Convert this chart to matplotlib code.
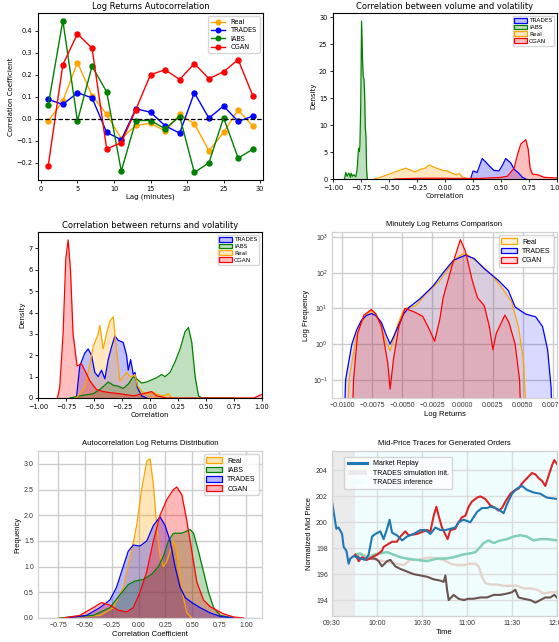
import matplotlib
matplotlib.use("Agg")
import matplotlib.pyplot as plt
from matplotlib.patches import Patch
from matplotlib.lines import Line2D

W, H = 559, 642

# --- Log returns autocorrelation (lags in minutes)
lags = [1, 3, 5, 7, 9, 11, 13, 15, 17, 19, 21, 23, 25, 27, 29]
acf_real = [-0.01, 0.08, 0.255, 0.105, 0.02, -0.09, -0.03, -0.02, -0.055, 0.02, -0.022, -0.145, -0.062, 0.04, -0.033]
acf_trades = [0.088, 0.065, 0.118, 0.095, -0.062, -0.095, 0.045, 0.03, -0.032, -0.065, 0.118, 0.003, 0.058, -0.012, 0.012]
acf_iabs = [0.062, 0.445, -0.01, 0.238, 0.122, -0.237, -0.008, -0.008, -0.045, 0.01, -0.243, -0.2, 0.005, -0.178, -0.138]
acf_cgan = [-0.213, 0.245, 0.385, 0.32, -0.137, -0.108, 0.042, 0.2, 0.222, 0.178, 0.25, 0.182, 0.213, 0.268, 0.105]

# --- Correlation between volume and volatility (density curves)
vv_trades_x = [0.228, 0.251, 0.287, 0.332, 0.362, 0.392, 0.437, 0.482, 0.512, 0.542, 0.587, 0.617, 0.653, 0.692, 0.722]
vv_trades_y = [0, 1.5, 1.2, 3.8, 3.2, 2.5, 1.6, 1.5, 2.5, 3.8, 3.0, 1.8, 1.2, 0.3, 0]
vv_iabs_x = [-0.900, -0.895, -0.886, -0.874, -0.859, -0.844, -0.838, -0.826, -0.814, -0.796, -0.784, -0.772,
             -0.766, -0.760, -0.752, -0.745, -0.736, -0.730, -0.724, -0.718, -0.712, -0.706, -0.700, -0.694]
vv_iabs_y = [0, 0.2, 1.2, 0.5, 1.1, 0.3, 1.1, 0.5, 0.8, 0.4, 1.8, 5.7, 5.1, 6.0, 14, 29.3, 22, 19, 18.7, 16, 9.7, 8, 1.8, 0]
vv_real_x = [-0.63, -0.58, -0.50, -0.42, -0.35, -0.30, -0.27, -0.22, -0.18, -0.14, -0.10, -0.06, -0.02, 0.02,
             0.06, 0.10, 0.13, 0.16, 0.20, 0.25]
vv_real_y = [0, 0.3, 0.9, 1.5, 2.0, 1.6, 1.3, 1.8, 2.0, 2.6, 2.2, 1.9, 1.6, 1.5, 1.1, 0.8, 1.0, 0.3, 0.1, 0]
vv_cgan_x = [-0.45, -0.30, -0.10, 0.10, 0.30, 0.50, 0.557, 0.617, 0.647, 0.677, 0.722, 0.743, 0.760, 0.781, 0.826, 0.886, 1.0]
vv_cgan_y = [0, 0.1, 0.15, 0.1, 0.1, 0.3, 0.5, 2.0, 4.5, 6.5, 7.3, 5.5, 2.0, 0.9, 0.8, 0.3, 0.2]

# --- Correlation between returns and volatility
rv_trades_x = [-0.657, -0.627, -0.582, -0.552, -0.522, -0.493, -0.463, -0.433, -0.403, -0.373, -0.343, -0.313,
               -0.284, -0.239, -0.209, -0.194, -0.173, -0.149, -0.134, -0.113, -0.075, -0.030]
rv_trades_y = [0, 1.5, 2.1, 2.3, 2.0, 1.2, 1.0, 1.3, 0.9, 1.8, 2.4, 2.9, 2.7, 2.6, 2.0, 1.3, 1.8, 1.1, 1.2, 0.5, 0.1, 0]
rv_iabs_x = [-0.716, -0.627, -0.507, -0.448, -0.403, -0.373, -0.328, -0.284, -0.239, -0.194, -0.149, -0.119,
             -0.075, -0.030, 0.015, 0.060, 0.104, 0.134, 0.179, 0.224, 0.269, 0.313, 0.343, 0.373, 0.403, 0.433, 0.463, 0.746]
rv_iabs_y = [0, 0.1, 0.2, 0.4, 0.6, 0.75, 0.6, 0.55, 0.45, 0.65, 1.0, 0.9, 0.7, 0.75, 0.85, 0.95, 1.1, 1.0, 1.2,
             1.7, 2.3, 3.1, 3.3, 2.6, 1.0, 0.1, 0, 0]
rv_real_x = [-0.657, -0.582, -0.552, -0.507, -0.463, -0.448, -0.418, -0.388, -0.358, -0.328, -0.304, -0.269,
             -0.239, -0.209, -0.179, -0.164, -0.134, -0.113, -0.075, -0.030, 0.030, 0.075, 0.119, 0.164, 0.194]
rv_real_y = [0, 0.5, 1.2, 2.4, 3.0, 3.4, 2.3, 3.0, 3.6, 3.8, 2.5, 0.8, 1.0, 1.2, 1.0, 1.0, 1.1, 0.6, 0.3, 0.2,
             0.25, 0.15, 0.1, 0.2, 0]
rv_cgan_x = [-0.827, -0.806, -0.776, -0.752, -0.731, -0.710, -0.687, -0.651, -0.612, -0.582, -0.537, -0.478,
             -0.418, -0.358, -0.269, -0.149, -0.060, 0.015, 0.060, 0.149, 0.925, 0.970, 1.0]
rv_cgan_y = [0, 0.5, 3.0, 6.5, 7.4, 6.0, 3.0, 1.5, 1.6, 1.3, 0.8, 0.4, 0.3, 0.25, 0.2, 0.1, 0.2, 0.3, 0.1, 0, 0, 0.1, 0.17]

# --- Minutely log returns (log-scale density)
lr_real_x = [-0.00969, -0.00943, -0.00886, -0.0084, -0.008, -0.00758, -0.0072, -0.0068, -0.0064, -0.00602,
             -0.0057, -0.0054, -0.005, -0.00474, -0.00388, -0.00303, -0.00189, -0.00104, -0.0005, -0.00004,
             0.00039, 0.00124, 0.00238, 0.00323, 0.00409, 0.00465, 0.00508, 0.00542]
lr_real_y = [0.001, 0.1, 1.5, 4.0, 6.8, 8.5, 6.8, 3.5, 1.3, 0.65, 1.4, 3.5, 7.5, 10, 12, 26, 60, 150, 250, 330,
             320, 200, 90, 40, 15, 3, 0.3, 0.001]
lr_trades_x = [-0.00991, -0.00972, -0.0092, -0.0088, -0.00843, -0.008, -0.00758, -0.0072, -0.00673, -0.0064,
               -0.00602, -0.0057, -0.0053, -0.0049, -0.00445, -0.0036, -0.00246, -0.00161, -0.00075, 0.00024,
               0.00096, 0.0018, 0.00295, 0.0038, 0.00437, 0.00522, 0.00608, 0.00665, 0.00707, 0.00736, 0.0075]
lr_trades_y = [0.001, 0.1, 1.0, 2.5, 4.5, 6.3, 7.2, 6.3, 4.0, 2.0, 1.0, 1.7, 3.5, 7.0, 10.7, 17.8, 42, 100, 224,
               309, 250, 130, 62, 32, 11, 7, 5.8, 3.1, 0.7, 0.06, 0.001]
lr_cgan_x = [-0.00923, -0.00906, -0.00872, -0.0082, -0.00758, -0.0072, -0.00673, -0.00622, -0.00602, -0.00573,
             -0.0053, -0.00479, -0.00402, -0.00331, -0.00274, -0.00232, -0.00189, -0.00161, -0.00089, -0.00018,
             0.00024, 0.00081, 0.00124, 0.0018, 0.00224, 0.00252, 0.0028, 0.00352, 0.00386, 0.00437, 0.00474, 0.00494]
lr_cgan_y = [0.001, 0.1, 2.0, 6.5, 9.3, 7.0, 3.0, 0.3, 0.055, 0.4, 3.0, 10, 8, 6, 2.5, 1.2, 5, 20, 150, 840,
             400, 60, 20, 12, 3, 0.7, 2, 6.5, 4, 1, 0.1, 0.001]

# --- Autocorrelation log returns distribution
ad_real_x = [-0.75, -0.361, -0.236, -0.143, -0.065, -0.018, 0.029, 0.076, 0.107, 0.138, 0.169, 0.200, 0.231,
             0.262, 0.294, 0.325, 0.356, 0.387, 0.418, 0.449, 0.496]
ad_real_y = [0, 0.05, 0.2, 0.6, 1.3, 1.8, 2.5, 3.05, 3.1, 2.6, 1.8, 1.2, 1.0, 1.1, 1.3, 1.5, 1.3, 0.8, 0.4, 0.1, 0]
ad_iabs_x = [-0.734, -0.579, -0.423, -0.267, -0.174, -0.096, -0.033, 0.044, 0.122, 0.185, 0.231, 0.278, 0.325,
             0.403, 0.481, 0.512, 0.558, 0.605, 0.652, 0.699, 0.761, 0.886]
ad_iabs_y = [0, 0.03, 0.05, 0.2, 0.45, 0.65, 0.72, 0.75, 0.85, 1.0, 1.2, 1.5, 1.65, 1.65, 1.72, 1.65, 1.3, 0.9,
             0.5, 0.2, 0.05, 0]
ad_trades_x = [-0.672, -0.485, -0.361, -0.267, -0.205, -0.143, -0.096, -0.049, 0.013, 0.076, 0.138, 0.200, 0.247,
               0.294, 0.340, 0.387, 0.434, 0.496, 0.574, 0.667, 0.761, 0.886]
ad_trades_y = [0, 0.05, 0.2, 0.35, 0.6, 1.0, 1.3, 1.42, 1.4, 1.5, 1.8, 1.97, 1.8, 1.5, 1.0, 0.6, 0.4, 0.3, 0.2,
               0.1, 0.03, 0]
ad_cgan_x = [-0.703, -0.548, -0.423, -0.345, -0.267, -0.189, -0.111, -0.049, 0.013, 0.076, 0.138, 0.200, 0.262,
             0.325, 0.356, 0.403, 0.449, 0.496, 0.543, 0.605, 0.667, 0.730, 0.792, 0.886, 0.979]
ad_cgan_y = [0, 0.05, 0.2, 0.3, 0.25, 0.15, 0.12, 0.2, 0.5, 0.9, 1.5, 2.0, 2.3, 2.5, 2.55, 2.4, 1.9, 1.3, 0.7,
             0.35, 0.22, 0.15, 0.08, 0.02, 0]

# --- Mid-price traces (minutes after 09:30)
mp_replay_t = [0, 1.1, 2.9, 4.4, 6.7, 7.8, 9.6, 11.1, 12.2, 14.4, 18.9, 22.2, 24.4, 26.7, 28.9, 32.2, 34.4, 36.7,
               38.4, 40.0, 43.3, 46.7, 50.0, 54.4, 58.9, 62.2, 65.6, 68.9, 72.2, 75.6, 78.9, 82.2, 84.4, 87.8,
               92.2, 96.7, 100.0, 103.3, 105.6, 108.9, 112.2, 114.4, 116.7, 120.0, 123.3, 126.7, 130.0, 134.4,
               138.9, 143.3, 150.0]
mp_replay = [201.6, 200.8, 199.5, 199.6, 199.1, 198.1, 197.8, 196.8, 197.2, 197.4, 197.2, 197.1, 197.5, 198.9,
             199.1, 199.3, 198.7, 199.5, 200.2, 199.2, 199.0, 198.6, 198.9, 199.1, 199.4, 199.4, 199.1, 199.6,
             199.4, 199.4, 199.5, 199.6, 200.0, 200.2, 200.0, 200.8, 201.1, 201.1, 201.2, 201.1, 200.9, 200.7,
             201.4, 202.2, 202.6, 202.8, 202.5, 202.3, 202.2, 201.9, 201.8]
mp_red_t = [15.6, 17.8, 20.0, 23.3, 26.7, 30.0, 33.3, 34.4, 40.0, 43.3, 45.6, 48.9, 51.1, 56.7, 63.3, 65.6, 67.8,
            69.6, 71.1, 73.3, 77.1, 78.9, 82.2, 84.4, 86.7, 88.9, 91.1, 93.3, 96.7, 98.9, 102.2, 105.6, 108.9,
            111.1, 113.3, 115.6, 118.9, 122.2, 124.4, 126.7, 130.0, 133.3, 135.6, 137.8, 140.0, 142.2, 144.4,
            146.7, 148.2, 150.0]
mp_red = [197.5, 197.0, 197.3, 197.1, 197.3, 197.5, 197.8, 198.1, 198.5, 198.5, 198.9, 199.3, 199.0, 199.1,
          199.4, 199.3, 200.5, 201.2, 200.5, 199.6, 198.7, 199.4, 199.5, 200.0, 200.4, 200.5, 201.2, 201.6,
          201.9, 202.0, 201.8, 201.3, 201.1, 200.9, 201.1, 201.6, 202.2, 202.5, 202.6, 203.0, 203.4, 203.8,
          203.7, 203.4, 203.2, 202.8, 203.6, 204.4, 204.8, 204.5]
mp_teal_t = [15.6, 18.9, 23.3, 27.8, 32.2, 36.7, 41.1, 45.6, 50.0, 56.7, 63.3, 70.0, 75.6, 81.1, 86.7, 92.2, 95.6,
             98.9, 101.1, 104.4, 107.8, 112.2, 116.7, 121.1, 125.6, 130.0, 134.4, 138.9, 143.3, 150.0]
mp_teal = [197.5, 197.6, 197.2, 197.5, 197.6, 197.7, 197.5, 197.3, 197.2, 197.1, 197.0, 197.2, 197.2, 197.3,
           197.5, 197.6, 197.7, 198.1, 198.4, 198.6, 198.4, 198.6, 198.7, 198.9, 199.0, 198.9, 198.6, 198.7,
           198.7, 198.6]
mp_pink_t = [15.6, 21.1, 25.6, 30.0, 34.4, 43.3, 47.8, 52.2, 56.7, 61.1, 65.6, 70.0, 74.4, 78.9, 83.3, 87.8, 92.2,
             95.6, 97.8, 100.0, 102.2, 105.6, 110.0, 114.4, 118.9, 123.3, 127.8, 132.2, 136.7, 141.1, 145.6, 150.0]
mp_pink = [197.5, 197.5, 197.2, 197.1, 197.0, 196.8, 196.7, 197.1, 197.1, 197.2, 197.3, 197.2, 197.1, 196.8,
           196.7, 196.7, 196.8, 196.8, 196.6, 195.8, 195.3, 195.2, 195.2, 195.1, 195.1, 195.1, 194.9, 194.9,
           194.8, 194.5, 194.6, 194.6]
mp_brown_t = [15.6, 18.9, 23.3, 28.9, 31.1, 33.3, 36.7, 38.9, 42.2, 45.6, 50.0, 54.4, 58.9, 63.3, 67.8, 72.2,
              74.4, 75.6, 76.7, 77.8, 81.1, 84.4, 87.8, 91.1, 94.4, 98.9, 103.3, 107.8, 112.2, 116.7, 120.0,
              122.2, 124.4, 127.8, 132.2, 135.6, 138.9, 142.2, 145.6, 148.2, 150.0]
mp_brown = [197.5, 197.2, 197.2, 197.2, 197.0, 196.6, 197.0, 197.1, 196.6, 196.4, 196.2, 196.0, 195.9, 195.8,
            195.6, 195.5, 195.4, 195.9, 194.8, 194.0, 194.4, 194.1, 194.0, 194.1, 194.1, 194.2, 194.2, 194.4,
            194.4, 194.5, 194.6, 194.8, 194.2, 194.1, 194.0, 193.8, 194.0, 194.2, 194.2, 194.4, 194.2]
time_ticks = [0, 30, 60, 90, 120, 150]
time_labels = ["09:30", "10:00", "10:30", "11:00", "11:30", "12:00"]
init_end = 15.6


def px_axes(fig, left, top, right, bottom):
    return fig.add_axes([left / W, 1 - bottom / H, (right - left) / W, (bottom - top) / H])


def classic_axes(ax):
    ax.tick_params(labelsize=4.8, length=2.5, width=0.6, pad=1.5)
    for s in ax.spines.values():
        s.set_linewidth(0.8)


def seaborn_axes(ax, grid="#cdcdcd"):
    ax.set_facecolor("white")
    ax.grid(True, color=grid, linewidth=1.0)
    ax.set_axisbelow(True)
    for s in ax.spines.values():
        s.set_color("#d2d2d2")
        s.set_linewidth(0.9)
    ax.tick_params(labelsize=5, length=0, pad=3, labelcolor="#333333")


def kde_fill(ax, x, y, color, alpha=0.25, lw=0.9):
    ax.fill_between(x, y, color=color, alpha=alpha, linewidth=0)
    ax.plot(x, y, color=color, linewidth=lw)


def legend_patches(ax, names, colors, alpha, **kw):
    handles = [Patch(facecolor=matplotlib.colors.to_rgba(c, alpha), edgecolor=c, linewidth=0.9, label=n)
               for n, c in zip(names, colors)]
    return ax.legend(handles=handles, **kw)


def plot_autocorr(fig):
    ax = px_axes(fig, 38, 13, 263, 180)
    ax.plot(lags, acf_real, "o-", color="orange", label="Real", markersize=3.6, linewidth=1)
    ax.plot(lags, acf_trades, "o-", color="blue", label="TRADES", markersize=3.6, linewidth=1)
    ax.plot(lags, acf_iabs, "o-", color="green", label="IABS", markersize=3.6, linewidth=1)
    ax.plot(lags, acf_cgan, "o-", color="red", label="CGAN", markersize=3.6, linewidth=1)
    ax.axhline(0, color="black", linestyle="--", linewidth=0.9)
    ax.set_xticks([0, 5, 10, 15, 20, 25, 30])
    ax.set_title("Log Returns Autocorrelation", fontsize=6, pad=3)
    ax.set_xlabel("Lag (minutes)", fontsize=5, labelpad=1.5)
    ax.set_ylabel("Correlation Coefficient", fontsize=5, labelpad=2)
    classic_axes(ax)
    ax.legend(fontsize=4.8, loc="upper right", markerscale=0.9, handlelength=2.2, borderpad=0.4,
              labelspacing=0.35)


def plot_vol_volatility(fig):
    ax = px_axes(fig, 333, 13, 557, 179)
    kde_fill(ax, vv_trades_x, vv_trades_y, "blue")
    kde_fill(ax, vv_iabs_x, vv_iabs_y, "green")
    kde_fill(ax, vv_real_x, vv_real_y, "orange")
    kde_fill(ax, vv_cgan_x, vv_cgan_y, "red")
    ax.set_xlim(-1, 1)
    ax.set_ylim(0, 30.8)
    ax.set_title("Correlation between volume and volatility", fontsize=6, pad=3)
    ax.set_xlabel("Correlation", fontsize=5, labelpad=1.5)
    ax.set_ylabel("Density", fontsize=5, labelpad=2)
    classic_axes(ax)
    legend_patches(ax, ["TRADES", "IABS", "Real", "CGAN"], ["blue", "green", "orange", "red"], 0.25,
                   fontsize=4.2, loc="upper right", handlelength=2.2, handleheight=0.9, borderpad=0.3,
                   labelspacing=0.25, handletextpad=0.3)


def plot_ret_volatility(fig):
    ax = px_axes(fig, 38, 232, 262, 398)
    kde_fill(ax, rv_trades_x, rv_trades_y, "blue")
    kde_fill(ax, rv_iabs_x, rv_iabs_y, "green")
    kde_fill(ax, rv_real_x, rv_real_y, "orange")
    kde_fill(ax, rv_cgan_x, rv_cgan_y, "red")
    ax.set_xlim(-1, 1)
    ax.set_ylim(0, 7.77)
    ax.set_title("Correlation between returns and volatility", fontsize=6, pad=3)
    ax.set_xlabel("Correlation", fontsize=5, labelpad=1.5)
    ax.set_ylabel("Density", fontsize=5, labelpad=2)
    classic_axes(ax)
    legend_patches(ax, ["TRADES", "IABS", "Real", "CGAN"], ["blue", "green", "orange", "red"], 0.25,
                   fontsize=4.2, loc="upper right", handlelength=2.2, handleheight=0.9, borderpad=0.3,
                   labelspacing=0.25, handletextpad=0.3)


def plot_log_returns(fig):
    ax = px_axes(fig, 332, 232, 557, 398)
    seaborn_axes(ax)
    kde_fill(ax, lr_real_x, lr_real_y, "orange", alpha=0.15)
    kde_fill(ax, lr_trades_x, lr_trades_y, "blue", alpha=0.15)
    kde_fill(ax, lr_cgan_x, lr_cgan_y, "red", alpha=0.15)
    ax.set_yscale("log")
    ax.set_ylim(0.031, 1380)
    ax.set_xlim(-0.01085, 0.00785)
    ax.set_xticks([-0.01, -0.0075, -0.005, -0.0025, 0, 0.0025, 0.005, 0.0075])
    ax.minorticks_off()
    ax.set_title("Minutely Log Returns Comparison", fontsize=5.5, pad=4)
    ax.set_xlabel("Log Returns", fontsize=5.5, labelpad=1)
    ax.set_ylabel("Log Frequency", fontsize=5.5, labelpad=2)
    legend_patches(ax, ["Real", "TRADES", "CGAN"], ["orange", "blue", "red"], 0.15,
                   fontsize=5, loc="upper right", handlelength=2.2, handleheight=0.9, borderpad=0.4,
                   labelspacing=0.3)


def plot_acf_dist(fig):
    ax = px_axes(fig, 38, 451, 262, 618)
    seaborn_axes(ax)
    kde_fill(ax, ad_real_x, ad_real_y, "orange", alpha=0.28)
    kde_fill(ax, ad_iabs_x, ad_iabs_y, "green", alpha=0.28)
    kde_fill(ax, ad_trades_x, ad_trades_y, "blue", alpha=0.28)
    kde_fill(ax, ad_cgan_x, ad_cgan_y, "red", alpha=0.28)
    ax.set_xlim(-0.937, 1.15)
    ax.set_ylim(0, 3.25)
    ax.set_xticks([-0.75, -0.5, -0.25, 0, 0.25, 0.5, 0.75, 1.0])
    ax.set_title("Autocorrelation Log Returns Distribution", fontsize=5.5, pad=4)
    ax.set_xlabel("Correlation Coefficient", fontsize=5.5, labelpad=1)
    ax.set_ylabel("Frequency", fontsize=5.5, labelpad=2)
    legend_patches(ax, ["Real", "IABS", "TRADES", "CGAN"], ["orange", "green", "blue", "red"], 0.28,
                   fontsize=5, loc="upper right", handlelength=2.2, handleheight=0.9, borderpad=0.4,
                   labelspacing=0.3)


def plot_mid_price(fig):
    ax = px_axes(fig, 332, 451, 557, 616)
    seaborn_axes(ax, grid="#dcdcdc")
    ax.axvspan(0, init_end, color="#ebebeb", linewidth=0, zorder=0)
    ax.axvspan(init_end, 150, color="#f0fdfd", linewidth=0, zorder=0)
    ax.plot(mp_pink_t, mp_pink, color="#e6d3cc", linewidth=1.7)
    ax.plot(mp_brown_t, mp_brown, color="#6b5350", linewidth=1.5)
    ax.plot(mp_teal_t, mp_teal, color="#82d0b8", linewidth=1.8)
    ax.plot(mp_red_t, mp_red, color="#d62728", linewidth=1.5)
    ax.plot(mp_replay_t, mp_replay, color="#1f77b4", linewidth=1.5)
    ax.set_xlim(0, 150)
    ax.set_ylim(192.77, 205.5)
    ax.set_xticks(time_ticks)
    ax.set_xticklabels(time_labels)
    ax.set_yticks([194, 196, 198, 200, 202, 204])
    ax.set_title("Mid-Price Traces for Generated Orders", fontsize=5.5, pad=4)
    ax.set_xlabel("Time", fontsize=5.5, labelpad=1)
    ax.set_ylabel("Normalized Mid Price", fontsize=5.5, labelpad=2)
    handles = [Line2D([0], [0], color="#1f77b4", linewidth=2.2, label="Market Replay"),
               Patch(facecolor="#ebebeb", edgecolor="none", label="TRADES simulation init."),
               Patch(facecolor="#f0fdfd", edgecolor="none", label="TRADES inference")]
    ax.legend(handles=handles, fontsize=5, loc="upper left", handlelength=2.8, borderpad=0.5,
              labelspacing=0.3, bbox_to_anchor=(0.04, 0.985))


def main():
    plt.rcParams["font.family"] = ["DejaVu Sans"]
    fig = plt.figure(figsize=(W / 100, H / 100), dpi=100)
    plot_autocorr(fig)
    plot_vol_volatility(fig)
    plot_ret_volatility(fig)
    plt.rcParams["font.family"] = ["Liberation Sans", "DejaVu Sans"]
    plot_log_returns(fig)
    plot_acf_dist(fig)
    plot_mid_price(fig)
    fig.savefig("out.png", dpi=100)


if __name__ == "__main__":
    main()
